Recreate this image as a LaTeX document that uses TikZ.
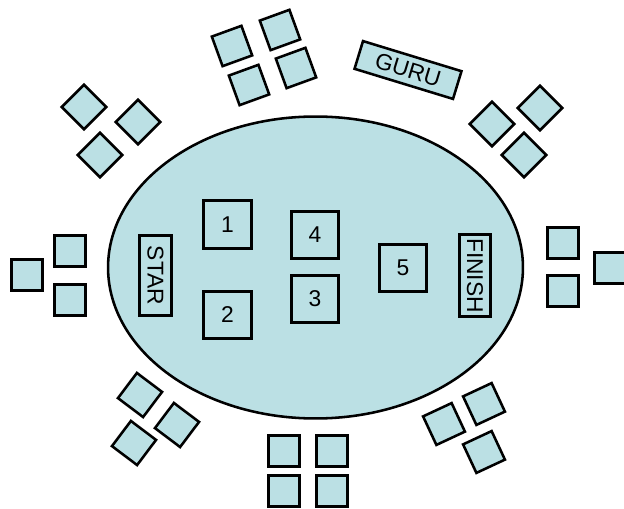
\documentclass[tikz,border=0pt]{standalone}
\usepackage{fontspec}
\setmainfont{Liberation Sans}
\usetikzlibrary{shapes.geometric}
\definecolor{tbl}{RGB}{187,224,228}
\begin{document}
\begin{tikzpicture}[x=0.02cm,y=-0.02cm,
  seat/.style={draw, fill=tbl, line width=1.45pt, minimum size=0.63cm, inner sep=0pt},
  station/.style={draw, line width=1.45pt, minimum size=0.95cm, inner sep=0pt, font=\fontsize{13}{15}\selectfont},
  vlabel/.style={draw, line width=1.45pt, inner sep=0pt, rotate=-90, minimum height=0.63cm, font=\fontsize{13}{15}\selectfont}]
\useasboundingbox (0,0) rectangle (624,509);
% table
\node[ellipse, draw, fill=tbl, line width=1.45pt, minimum width=8.3cm, minimum height=6.04cm, inner sep=0pt] (table) at (315.5,267.5) {};
% stations
\node[station] (s1) at (227.5,224.5) {1};
\node[station] (s2) at (227.5,315) {2};
\node[station] (s4) at (315,235) {4};
\node[station] (s3) at (315,299) {3};
\node[station] (s5) at (403,268) {5};
\node[vlabel, minimum width=1.6cm] (star) at (155.5,275.5) {STAR};
\node[vlabel, minimum width=1.64cm] (finish) at (475,275.5) {FINISH};
% guru
\node[draw, fill=tbl, line width=1.45pt, rotate=-17, minimum width=2.06cm, minimum height=0.58cm, inner sep=0pt, font=\fontsize{13}{15}\selectfont] (guru) at (408,70) {GURU};
% top group
\node[seat, rotate=20] (t1) at (232,46) {};
\node[seat, rotate=20] (t2) at (280,30) {};
\node[seat, rotate=20] (t3) at (249,85) {};
\node[seat, rotate=20] (t4) at (296,68) {};
% top-left group
\node[seat, rotate=45] (tl1) at (84,107) {};
\node[seat, rotate=45] (tl2) at (138,122) {};
\node[seat, rotate=45] (tl3) at (100,155) {};
% top-right group
\node[seat, rotate=45] (tr1) at (492,124) {};
\node[seat, rotate=45] (tr2) at (540,108) {};
\node[seat, rotate=45] (tr3) at (524,155) {};
% left group
\node[seat] (l1) at (70,251) {};
\node[seat] (l2) at (27,275) {};
\node[seat] (l3) at (70,300) {};
% right group
\node[seat] (r1) at (563,243) {};
\node[seat] (r2) at (563,291) {};
\node[seat] (r3) at (610,268) {};
% bottom-left group
\node[seat, rotate=-37] (bl1) at (140,395) {};
\node[seat, rotate=-37] (bl2) at (177,425) {};
\node[seat, rotate=-37] (bl3) at (134,443) {};
% bottom group
\node[seat] (b1) at (284,451) {};
\node[seat] (b2) at (332,451) {};
\node[seat] (b3) at (284,491) {};
\node[seat] (b4) at (332,491) {};
% bottom-right group
\node[seat, rotate=25] (br1) at (444,424) {};
\node[seat, rotate=25] (br2) at (484,404) {};
\node[seat, rotate=25] (br3) at (484,452) {};
\end{tikzpicture}
\end{document}
